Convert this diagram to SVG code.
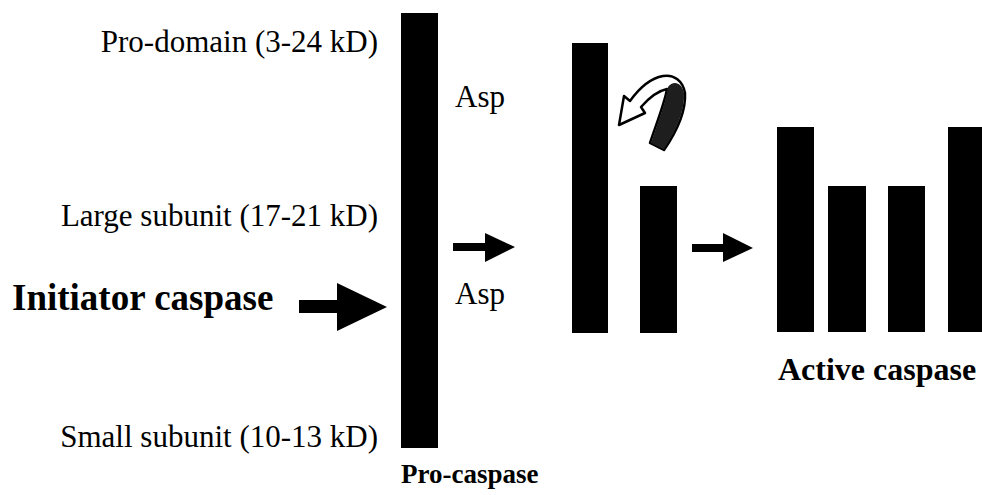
<svg xmlns="http://www.w3.org/2000/svg" width="982" height="495" viewBox="0 0 982 495">
  <style>
    .lbl { font-family: "Liberation Serif", "Times New Roman", serif; font-size: 31px; fill: #000; }
    .bold { font-family: "Liberation Serif", "Times New Roman", serif; font-weight: bold; fill: #000; }
    .bar { fill: #000; }
  </style>
  <rect width="982" height="495" fill="#fff"/>

  <!-- Pro-caspase -->
  <g id="procaspase">
    <rect class="bar" x="401" y="13" width="37" height="435"/>
    <text class="lbl" x="378" y="52" text-anchor="end">Pro-domain (3-24 kD)</text>
    <text class="lbl" x="378" y="226" text-anchor="end">Large subunit (17-21 kD)</text>
    <text class="lbl" x="378" y="447" text-anchor="end">Small subunit (10-13 kD)</text>
    <text class="lbl" x="455" y="107" font-size="30">Asp</text>
    <text class="lbl" x="455" y="304" font-size="30">Asp</text>
    <text class="bold" x="401" y="483" font-size="27">Pro-caspase</text>
  </g>

  <!-- Initiator caspase -->
  <g id="initiator">
    <text class="bold" x="12" y="310" font-size="37">Initiator caspase</text>
  </g>

  <!-- Cleaved intermediate -->
  <g id="intermediate">
    <rect class="bar" x="572" y="43" width="36" height="290"/>
    <rect class="bar" x="640" y="186" width="37" height="147"/>
  </g>

  <!-- Active caspase -->
  <g id="active">
    <rect class="bar" x="777" y="127" width="37" height="205"/>
    <rect class="bar" x="828" y="186" width="38" height="146"/>
    <rect class="bar" x="888" y="186" width="37" height="146"/>
    <rect class="bar" x="948" y="127" width="36" height="205"/>
    <text class="bold" x="778" y="380" font-size="32">Active caspase</text>
  </g>

  <!-- Connectors -->
  <g id="connectors">
    <polygon fill="#000" points="299,300 337,300 337,283 387,307 337,331 337,313 299,313"/>
    <polygon fill="#000" points="453,243 485,243 485,233 515,247 485,262 485,251 453,251"/>
    <polygon fill="#000" points="692,244 723,244 723,233 753,248 723,262 723,252 692,252"/>
    <!-- curved self-cleavage arrow -->
    <path d="M650,143 C657,122 665,102 667,89 C657,91 648,99 641,107 L645,113 L619,125 L624,96 L630,101 C640,87 652,78 663,76 C674,74 683,81 685,93 C686,110 677,131 664,150 Z" fill="#fff" stroke="#000" stroke-width="2.5" stroke-linejoin="round"/>
    <path d="M651,143 C658,122 666,102 668,87 C673,80 682,82 684,93 C685,110 676,131 664,149 Z" fill="#1e1e1e"/>
  </g>
</svg>
